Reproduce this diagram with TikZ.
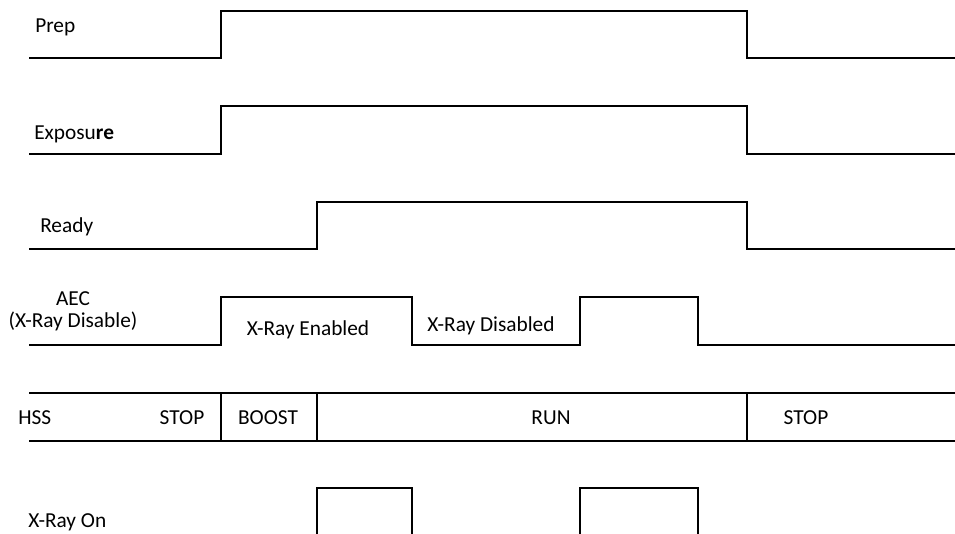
\documentclass[tikz,border=0pt]{standalone}
\usepackage{fontspec}
\setmainfont{Carlito}
\usetikzlibrary{positioning}

\begin{document}
\begin{tikzpicture}[
    x=0.75pt, y=-0.75pt,
    wave/.style={line width=0.8pt, black},
    lbl/.style={inner sep=0pt, font=\fontsize{16}{16}\selectfont},
    sig/.style={lbl, anchor=base west}
]
    \useasboundingbox (0,0) rectangle (955,534);

    % Prep
    \node[sig] (prep) at (35,33) {Prep};
    \draw[wave] (29,58) -- (221,58) -- (221,11) -- (747,11) -- (747,58) -- (955,58);

    % Exposure
    \node[sig] (expo) at (34,140) {Exposu\textbf{re}};
    \draw[wave] (29,154) -- (221,154) -- (221,106) -- (747,106) -- (747,154) -- (955,154);

    % Ready
    \node[sig] (ready) at (40,233) {Ready};
    \draw[wave] (29,249) -- (317,249) -- (317,202) -- (747,202) -- (747,249) -- (955,249);

    % AEC
    \node[lbl, anchor=base, align=center] (aec) at (73,327) {AEC\\(X-Ray Disable)};
    \draw[wave] (29,345) -- (221,345) -- (221,297) -- (412,297) -- (412,345)
        -- (580,345) -- (580,297) -- (698,297) -- (698,345) -- (955,345);
    \node[lbl, anchor=base] (enab) at (308,335) {X-Ray Enabled};
    \node[lbl, anchor=base] (disab) at (491,331) {X-Ray Disabled};

    % HSS
    \draw[wave] (29,393) -- (955,393);
    \draw[wave] (29,441) -- (955,441);
    \foreach \xx in {221,317,747}
        \draw[wave] (\xx,393) -- (\xx,441);
    \node[lbl, anchor=base west] (hss) at (18,424) {HSS};
    \node[lbl, anchor=base] (stopa) at (182,424) {STOP};
    \node[lbl, anchor=base] (boost) at (268,424) {BOOST};
    \node[lbl, anchor=base] (run) at (551,424) {RUN};
    \node[lbl, anchor=base] (stopb) at (806,424) {STOP};

    % X-Ray On
    \node[sig] (xon) at (28,527) {X-Ray On};
    \draw[wave] (317,534) -- (317,488) -- (412,488) -- (412,534);
    \draw[wave] (580,534) -- (580,488) -- (698,488) -- (698,534);

\end{tikzpicture}
\end{document}
